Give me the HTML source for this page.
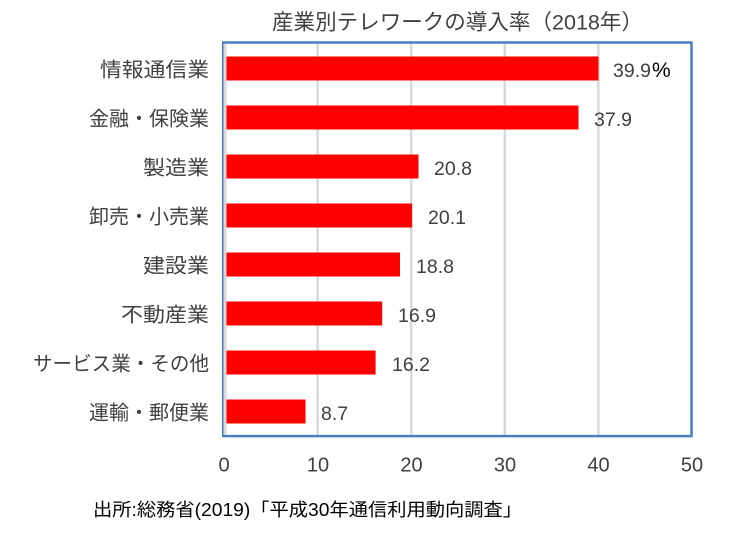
<!DOCTYPE html>
<html>
<head>
<meta charset="utf-8">
<style>
html,body{margin:0;padding:0;background:#fff;}
svg{display:block;}
text{font-family:"Liberation Sans","Noto Sans CJK JP",sans-serif;}
.cat{font-size:20px;fill:#404040;text-anchor:end;}
.val{font-size:19.5px;fill:#404040;}
.tick{font-size:20px;fill:#404040;text-anchor:middle;}
</style>
</head>
<body>
<svg width="750" height="533" viewBox="0 0 750 533" xmlns="http://www.w3.org/2000/svg">
  <rect width="750" height="533" fill="#fff"/>
  <!-- title -->
  <text x="272" y="29.5" font-size="21.5" fill="#404040" textLength="371" lengthAdjust="spacingAndGlyphs">産業別テレワークの導入率（2018年）</text>

  <!-- gridlines -->
  <g stroke="#d9d9d9" stroke-width="2.5">
    <line x1="317.6" y1="43" x2="317.6" y2="435"/>
    <line x1="411.2" y1="43" x2="411.2" y2="435"/>
    <line x1="504.8" y1="43" x2="504.8" y2="435"/>
    <line x1="598.4" y1="43" x2="598.4" y2="435"/>
  </g>

  <!-- bars -->
  <g fill="#ff0000">
    <rect x="225.5" y="56.5" width="373" height="24"/>
    <rect x="225.5" y="105.5" width="353" height="24"/>
    <rect x="225.5" y="154.5" width="193" height="24"/>
    <rect x="225.5" y="203.5" width="186.6" height="24"/>
    <rect x="225.5" y="252.5" width="174.5" height="24"/>
    <rect x="225.5" y="301.5" width="156.7" height="24"/>
    <rect x="225.5" y="350.5" width="150.1" height="24"/>
    <rect x="225.5" y="399.5" width="80" height="24"/>
  </g>

  <!-- plot border -->
  <rect x="223.2" y="42.5" width="468.3" height="393.6" fill="none" stroke="#4a7ebb" stroke-width="2.5"/>
  <line x1="225" y1="44" x2="225" y2="435" stroke="#d9d9d9" stroke-width="3"/>

  <!-- category labels -->
  <text class="cat" x="209" y="76.5" textLength="109" lengthAdjust="spacingAndGlyphs">情報通信業</text>
  <text class="cat" x="209" y="125.5" textLength="120" lengthAdjust="spacingAndGlyphs">金融・保険業</text>
  <text class="cat" x="209" y="174.5" textLength="66" lengthAdjust="spacingAndGlyphs">製造業</text>
  <text class="cat" x="209" y="223.5" textLength="120" lengthAdjust="spacingAndGlyphs">卸売・小売業</text>
  <text class="cat" x="209" y="272.5" textLength="66" lengthAdjust="spacingAndGlyphs">建設業</text>
  <text class="cat" x="209" y="321.5" textLength="88" lengthAdjust="spacingAndGlyphs">不動産業</text>
  <text class="cat" x="209" y="370.5" textLength="176" lengthAdjust="spacingAndGlyphs">サービス業・その他</text>
  <text class="cat" x="209" y="419.5" textLength="120" lengthAdjust="spacingAndGlyphs">運輸・郵便業</text>

  <!-- value labels -->
  <text class="val" x="613" y="77">39.9<tspan fill="#000" font-size="21" dx="1">%</tspan></text>
  <text class="val" x="594" y="126">37.9</text>
  <text class="val" x="434" y="175">20.8</text>
  <text class="val" x="428" y="224">20.1</text>
  <text class="val" x="416" y="273">18.8</text>
  <text class="val" x="398" y="322">16.9</text>
  <text class="val" x="392" y="371">16.2</text>
  <text class="val" x="321" y="420">8.7</text>

  <!-- x ticks -->
  <text class="tick" x="224" y="471.5">0</text>
  <text class="tick" x="318" y="471.5">10</text>
  <text class="tick" x="411.5" y="471.5">20</text>
  <text class="tick" x="505" y="471.5">30</text>
  <text class="tick" x="598.5" y="471.5">40</text>
  <text class="tick" x="692" y="471.5">50</text>

  <!-- source -->
  <text x="93" y="516" font-size="18" fill="#000" textLength="429" lengthAdjust="spacingAndGlyphs">出所:総務省(2019)「平成30年通信利用動向調査」</text>
</svg>
</body>
</html>
